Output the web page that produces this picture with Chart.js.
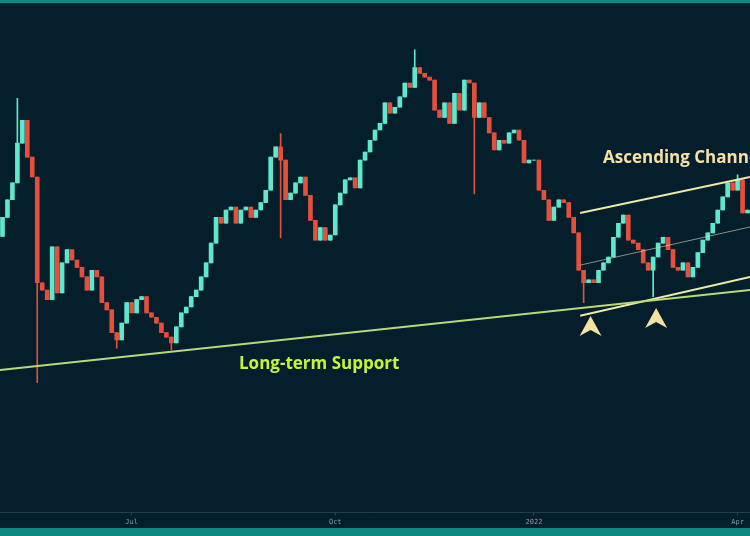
<!DOCTYPE html>
<html>
<head>
<title>BTC daily - Ascending Channel</title>
<script src="https://cdn.jsdelivr.net/npm/chart.js"></script>
<style>
  body { margin: 0; background: #051e2c; width: 750px; height: 536px; overflow: hidden; position: relative; }
  #wrap { position: absolute; left: 0; top: 0; width: 750px; height: 528px; }
  .strip { position: absolute; left: 0; width: 750px; background: #0b8a80; }
  .note { position: absolute; font-family: "Open Sans", sans-serif; font-weight: bold; font-size: 17px; white-space: nowrap; }
</style>
</head>
<body>
<div class="strip" style="top:0;height:3px"></div>
<div id="wrap"><canvas id="c" width="750" height="528"></canvas></div>
<div class="strip" style="top:528px;height:8px"></div>
<div class="note" style="left:239px;top:351px;color:#c4f53a">Long-term Support</div>
<div class="note" style="left:603px;top:145px;color:#f6e1a4">Ascending Channel</div>
<script>
// daily-ish closes (k USD), May 2021 -> Apr 2022, 2-day steps
var firstOpen = 44.0;
var closes = [46.6,49.0,51.3,56.7,59.8,54.8,52.1,37.7,36.7,35.4,42.6,36.3,40.4,42.2,40.8,39.8,38.5,36.7,39.4,38.5,
  35.0,34.0,30.9,29.9,32.2,35.0,33.6,35.4,35.8,33.6,33.0,32.2,30.9,30.3,29.5,31.7,33.6,34.4,35.8,36.7,
  38.5,40.4,43.1,46.6,45.8,47.6,48.0,45.8,47.6,48.0,46.6,47.6,48.6,50.3,54.8,56.2,54.4,49.0,49.9,51.3,
  52.1,49.6,46.2,43.5,45.2,43.5,44.2,48.3,49.9,51.7,52.0,50.6,54.4,55.5,57.1,58.5,59.4,62.2,60.8,61.6,
  63.0,64.9,64.3,67.0,66.2,65.7,65.3,61.2,60.2,62.2,59.4,63.5,61.2,65.3,64.9,60.2,62.2,60.2,58.1,55.8,
  57.1,56.7,58.1,58.5,57.1,54.0,54.4,54.4,50.3,49.0,46.2,48.0,49.0,48.6,46.6,44.5,39.4,37.7,38.1,37.7,
  39.4,40.4,41.2,43.9,45.8,46.9,43.5,43.1,42.2,40.4,39.4,41.2,43.1,43.9,42.2,39.8,39.4,40.4,38.5,39.8,
  41.8,43.5,44.5,45.8,47.6,49.4,51.3,50.3,51.7,47.2,47.6];
// notable long wicks [index, price]
var wickHighs = [[3, 62.8], [56, 58.0], [83, 69.4], [148, 52.4]];
var wickLows = [[7, 24.1], [23, 28.8], [34, 28.6], [56, 43.8], [95, 49.8], [117, 35.0], [131, 35.8]];
var tickIdx = [26, 67, 107, 148];
var tickText = ['Jul', 'Oct', '2022', 'Apr'];
var supportLine = [[-0.5, 25.8], [150.5, 36.7]];
var channelTop = [[116.3, 47.2], [150.5, 52.1]];
var channelMid = [[116.3, 40.1], [150.5, 45.3]];
var channelBottom = [[116.3, 33.2], [150.5, 38.5]];
var arrowSpots = [[118.4, 31.8], [131.6, 32.9]];

var up = '#5fe8cb', down = '#e3503c';
var N = closes.length;
var bodies = [], wicks = [], colors = [];
for (var i = 0; i < N; i++) {
  var o = i === 0 ? firstOpen : closes[i - 1];
  var c = closes[i];
  var hi = Math.max(o, c), lo = Math.min(o, c);
  wickHighs.forEach(function (w) { if (w[0] === i) hi = w[1]; });
  wickLows.forEach(function (w) { if (w[0] === i) lo = w[1]; });
  bodies.push({ x: i, y: [o, c] });
  wicks.push({ x: i, y: [lo, hi] });
  colors.push(c >= o ? up : down);
}
function pts(a) { return a.map(function (p) { return { x: p[0], y: p[1] }; }); }

var arrows = {
  id: 'arrows',
  afterDatasetsDraw: function (chart) {
    var ctx = chart.ctx, xs = chart.scales.x, ys = chart.scales.y;
    ctx.save();
    ctx.fillStyle = '#f6e1a4';
    arrowSpots.forEach(function (a) {
      var x = xs.getPixelForValue(a[0]), y = ys.getPixelForValue(a[1]);
      ctx.beginPath();
      ctx.moveTo(x, y - 10);
      ctx.lineTo(x + 11, y + 10);
      ctx.lineTo(x, y + 4);
      ctx.lineTo(x - 11, y + 10);
      ctx.closePath();
      ctx.fill();
    });
    ctx.restore();
  }
};

new Chart(document.getElementById('c'), {
  type: 'bar',
  data: {
    datasets: [
      { type: 'line', data: pts(supportLine), borderColor: '#b9d977', borderWidth: 2, pointRadius: 0 },
      { type: 'line', data: pts(channelTop), borderColor: '#ede9a6', borderWidth: 2, pointRadius: 0 },
      { type: 'line', data: pts(channelMid), borderColor: 'rgba(220,220,190,0.6)', borderWidth: 1, pointRadius: 0 },
      { type: 'line', data: pts(channelBottom), borderColor: '#ede9a6', borderWidth: 2, pointRadius: 0 },
      { data: wicks, backgroundColor: colors, barThickness: 1, grouped: false },
      { data: bodies, backgroundColor: colors, barThickness: 4, grouped: false }
    ]
  },
  options: {
    responsive: false,
    animation: false,
    layout: { padding: 0 },
    plugins: { legend: { display: false }, tooltip: { enabled: false } },
    scales: {
      x: {
        type: 'linear', min: -0.5, max: N - 0.5, offset: false,
        grid: { drawOnChartArea: false, offset: false, color: '#2a4350', tickLength: 3 },
        border: { color: '#22404d' },
        afterBuildTicks: function (s) { s.ticks = tickIdx.map(function (v) { return { value: v }; }); },
        ticks: {
          autoSkip: false, maxRotation: 0, padding: 2, color: '#8a9ba6',
          font: { family: 'DejaVu Sans Mono', size: 7 },
          callback: function (v) { return tickText[tickIdx.indexOf(v)]; }
        }
      },
      y: { display: false, min: 6.4, max: 76.2 }
    }
  },
  plugins: [arrows]
});
</script>
</body>
</html>
